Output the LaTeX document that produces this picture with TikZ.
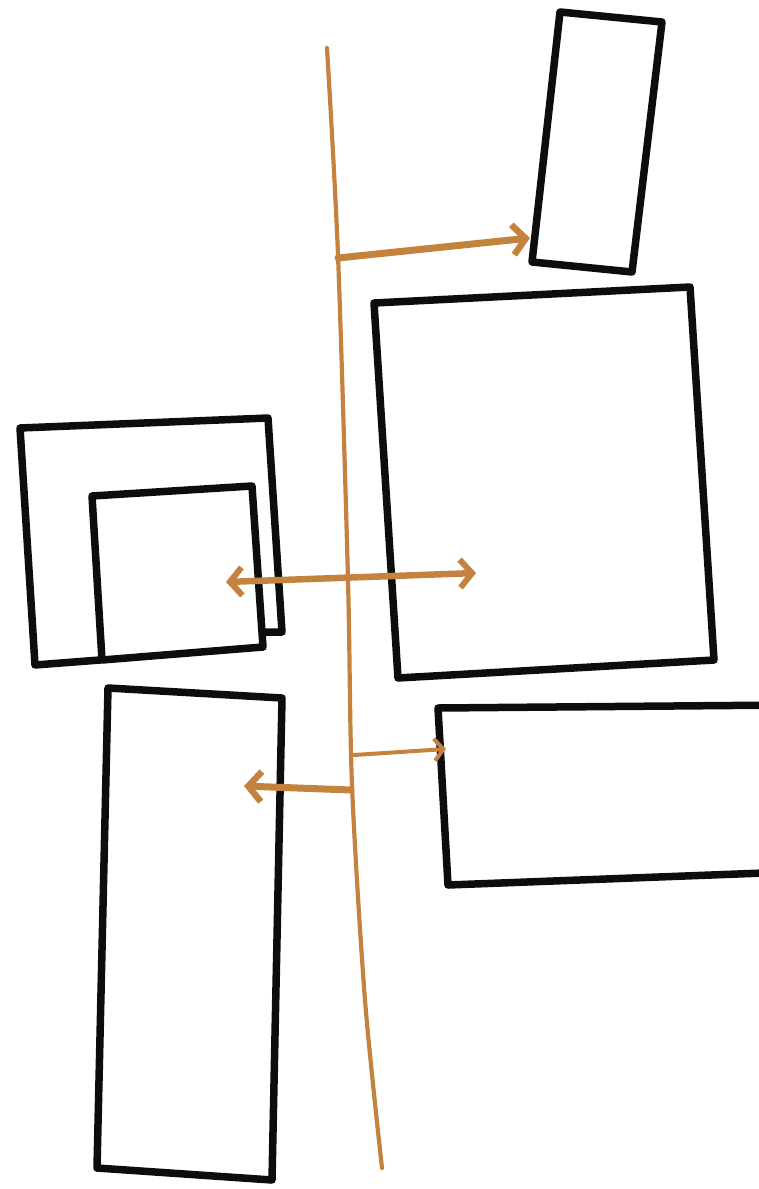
\documentclass[tikz,border=0pt]{standalone}
\usepackage{xcolor}
\usepackage{tikz}
\usetikzlibrary{arrows.meta,calc}
\definecolor{pen}{HTML}{0D0D0D}
\definecolor{ochre}{HTML}{C4823F}
\tikzset{
  box/.style={pen,line width=7.5pt,line join=round,line cap=round},
  spine/.style={ochre,line width=4.2pt,line cap=round},
  push/.style={ochre,line width=7pt,line cap=round,-{Straight Barb[length=13pt,width=30pt,line width=6.5pt]}},
  pushboth/.style={ochre,line width=6.5pt,line cap=round,{Straight Barb[length=12pt,width=28pt,line width=6pt]}-{Straight Barb[length=12pt,width=28pt,line width=6pt]}},
  nudge/.style={ochre,line width=4pt,line cap=round,-{Straight Barb[length=9pt,width=22pt,line width=4pt]}}
}
\begin{document}
\begin{tikzpicture}[x=1pt,y=-1pt]
  \useasboundingbox (0,0) rectangle (759,1189);
  \clip (0,0) rectangle (759,1189);
  % boxes
  \draw[box] (560,12) -- (662,22) -- (632,272) -- (532,262) -- cycle;
  \draw[box] (374,303) -- (690,287) -- (714,660) -- (398,678) -- cycle;
  \draw[box] (266,632) -- (282,632) -- (268,418) -- (20,428) -- (35,665) -- (100,660);
  \draw[box] (92,496) -- (252,486) -- (263,647) -- (102,660) -- cycle;
  \draw[box] (108,688) -- (282,698) -- (272,1180) -- (97,1168) -- cycle;
  \draw[box] (790,705) -- (438,708) -- (448,885) -- (790,872);
  % spine and its points
  \draw[spine] plot[smooth] coordinates {(327,48) (338,255) (348,580) (352,785) (365,1000) (382,1168)};
  \coordinate (s1) at (338,258);
  \coordinate (s3) at (354,755);
  \coordinate (s4) at (351,790);
  \coordinate (t1) at (530,238);
  \coordinate (t2a) at (226,582);
  \coordinate (t2b) at (476,573);
  \coordinate (t3) at (446,749);
  \coordinate (t4) at (244,786);
  % arrows
  \draw[push] (s1) -- (t1);
  \draw[pushboth] (t2a) -- (t2b);
  \draw[nudge] (s3) -- (t3);
  \draw[push] (s4) -- (t4);
\end{tikzpicture}
\end{document}
